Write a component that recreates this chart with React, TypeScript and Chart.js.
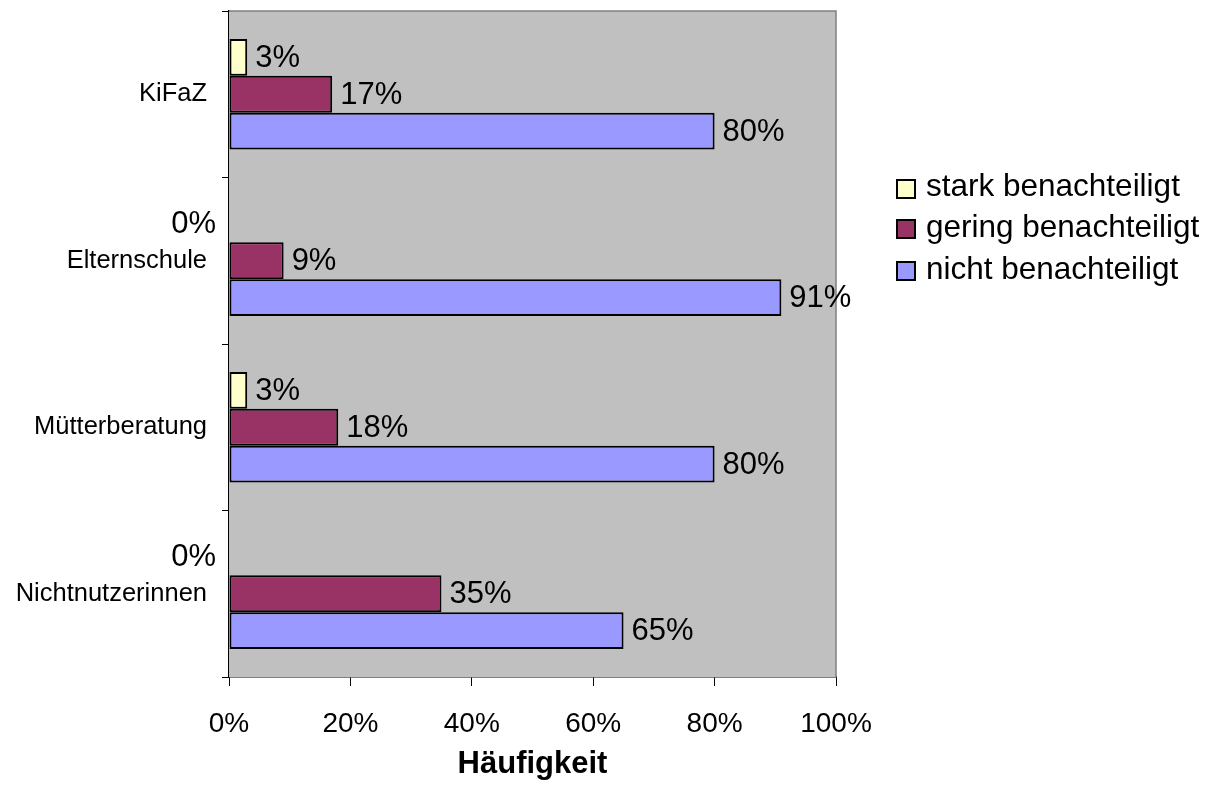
import React, { useEffect, useRef } from "react";
import { Chart, registerables } from "chart.js";

Chart.register(...registerables);

const categories = ["KiFaZ", "Elternschule", "Mütterberatung", "Nichtnutzerinnen"];
const seriesNames = ["stark benachteiligt", "gering benachteiligt", "nicht benachteiligt"];
const starkValues = [3, 0, 3, 0];
const geringValues = [17, 9, 18, 35];
const nichtValues = [80, 91, 80, 65];
const xTicks = [0, 20, 40, 60, 80, 100];
const colors = ["#FFFFCC", "#993366", "#9999FF"];
const xTitle = "Häufigkeit";

const FONT = "'Liberation Sans', Arial, sans-serif";

const bgPlugin = {
  id: "bgPlugin",
  beforeDatasetsDraw(chart: any) {
    const { ctx, chartArea } = chart;
    ctx.save();
    ctx.fillStyle = "#C0C0C0";
    ctx.fillRect(chartArea.left, chartArea.top, chartArea.right - chartArea.left, chartArea.bottom - chartArea.top);
    ctx.strokeStyle = "#808080";
    ctx.lineWidth = 1.5;
    ctx.beginPath();
    ctx.moveTo(chartArea.left, chartArea.top);
    ctx.lineTo(chartArea.right, chartArea.top);
    ctx.lineTo(chartArea.right, chartArea.bottom);
    ctx.stroke();
    ctx.restore();
  },
};

const labelPlugin = {
  id: "labelPlugin",
  afterDatasetsDraw(chart: any) {
    const { ctx, chartArea } = chart;
    ctx.save();
    ctx.font = `31px ${FONT}`;
    ctx.fillStyle = "#000";
    ctx.textBaseline = "middle";
    chart.data.datasets.forEach((ds: any, di: number) => {
      const meta = chart.getDatasetMeta(di);
      meta.data.forEach((bar: any, i: number) => {
        const v = ds.data[i];
        const text = `${v}%`;
        if (v === 0) {
          ctx.textAlign = "right";
          ctx.fillText(text, chartArea.left - 13, bar.y + 1);
        } else {
          ctx.textAlign = "left";
          ctx.fillText(text, bar.x + 8, bar.y + 1);
        }
      });
    });
    ctx.restore();
  },
};

const legendPlugin = {
  id: "legendPlugin",
  afterDraw(chart: any) {
    const { ctx } = chart;
    ctx.save();
    ctx.font = `31.5px ${FONT}`;
    ctx.textBaseline = "alphabetic";
    ctx.textAlign = "left";
    const x0 = 897;
    const boxTops = [180, 220, 262];
    const baselines = [196, 237, 279];
    chart.data.datasets.forEach((ds: any, i: number) => {
      ctx.fillStyle = ds.backgroundColor;
      ctx.fillRect(x0, boxTops[i], 18, 18);
      ctx.strokeStyle = "#000";
      ctx.lineWidth = 2;
      ctx.strokeRect(x0, boxTops[i], 18, 18);
      ctx.fillStyle = "#000";
      ctx.fillText(ds.label, x0 + 29, baselines[i]);
    });
    ctx.restore();
  },
};

export default function App() {
  const ref = useRef<HTMLCanvasElement>(null);
  useEffect(() => {
    if (!ref.current) return;
    const values = [starkValues, geringValues, nichtValues];
    const chart = new Chart(ref.current, {
      type: "bar",
      data: {
        labels: categories,
        datasets: seriesNames.map((name, i) => ({
          label: name,
          data: values[i],
          backgroundColor: colors[i],
          borderColor: "#000",
          borderWidth: 2,
          borderSkipped: false,
          barPercentage: 1.0,
          categoryPercentage: 0.665,
        })),
      },
      options: {
        indexAxis: "y",
        responsive: false,
        animation: false,
        layout: { padding: { top: 11, right: 387, left: 0, bottom: 0 } },
        plugins: { legend: { display: false }, tooltip: { enabled: false } },
        scales: {
          x: {
            min: 0,
            max: 100,
            afterBuildTicks: (s: any) => {
              s.ticks = xTicks.map((v) => ({ value: v }));
            },
            afterFit: (s: any) => {
              s.height = 112;
              s.paddingLeft = 0;
              s.paddingRight = 0;
            },
            ticks: {
              callback: (v: any) => `${v}%`,
              font: { family: FONT, size: 28 },
              color: "#000",
              padding: 21,
              maxRotation: 0,
              autoSkip: false,
            },
            grid: { drawOnChartArea: false, tickLength: 9, color: "#000", lineWidth: 1 },
            border: { color: "#000", width: 1.5 },
            title: {
              display: true,
              text: xTitle,
              font: { family: FONT, size: 31, weight: "bold" },
              color: "#000",
              padding: { top: 0, bottom: 6 },
            },
          },
          y: {
            afterFit: (s: any) => {
              s.width = 229;
              s.paddingTop = 0;
              s.paddingBottom = 0;
            },
            ticks: {
              font: { family: FONT, size: 25.5 },
              color: "#000",
              padding: 15,
            },
            grid: { drawOnChartArea: false, tickLength: 7, color: "#000", lineWidth: 1, offset: true },
            border: { color: "#000", width: 1.5 },
          },
        },
      } as any,
      plugins: [bgPlugin, labelPlugin, legendPlugin],
    });
    return () => chart.destroy();
  }, []);
  return (
    <div style={{ position: "fixed", left: 0, top: 0, width: 1223, height: 789, background: "#fff" }}>
      <canvas ref={ref} width={1223} height={789} />
    </div>
  );
}
